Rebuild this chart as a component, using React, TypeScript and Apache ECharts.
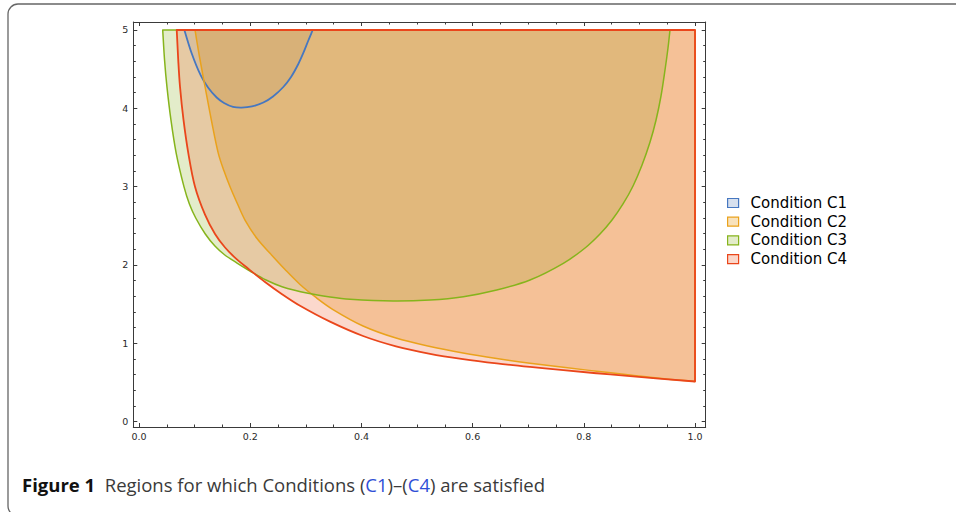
import React, { useEffect, useRef } from "react";
import * as echarts from "echarts";

// ---- axis ticks ----
const xMajorTicks = [0, 0.2, 0.4, 0.6, 0.8, 1.0];
const xMinorTicks = [0.05, 0.1, 0.15, 0.25, 0.3, 0.35, 0.45, 0.5, 0.55, 0.65, 0.7, 0.75, 0.85, 0.9, 0.95];
const yMajorTicks = [0, 1, 2, 3, 4, 5];
const yMinorTicks = [0.2, 0.4, 0.6, 0.8, 1.2, 1.4, 1.6, 1.8, 2.2, 2.4, 2.6, 2.8, 3.2, 3.4, 3.6, 3.8, 4.2, 4.4, 4.6, 4.8];

// ---- legend names ----
const conditionNames = ["Condition C1", "Condition C2", "Condition C3", "Condition C4"];

// ---- region boundary curves [x, y] ----
const c1Curve: number[][] = [
  [0.0815, 5.0], [0.0948, 4.7], [0.111, 4.419], [0.1241, 4.266], [0.1397, 4.138],
  [0.1529, 4.068], [0.1691, 4.018], [0.1847, 4.008], [0.2032, 4.023], [0.2236, 4.074],
  [0.241, 4.151], [0.2595, 4.272], [0.2734, 4.4], [0.2865, 4.566], [0.2959, 4.713],
  [0.3045, 4.866], [0.3124, 5.0],
];
const c1Corners: number[][] = [];

const c2Curve: number[][] = [
  [0.1007, 5.0], [0.1088, 4.655], [0.1187, 4.276], [0.1304, 3.838], [0.1426, 3.425],
  [0.1529, 3.199], [0.1637, 2.999], [0.1772, 2.778], [0.1906, 2.573], [0.2122, 2.337],
  [0.2356, 2.148], [0.2626, 1.941], [0.2896, 1.75], [0.3183, 1.584], [0.3489, 1.43],
  [0.4029, 1.22], [0.4622, 1.066], [0.5234, 0.958], [0.5827, 0.875], [0.6433, 0.805],
  [0.7032, 0.745], [0.7631, 0.692], [0.8232, 0.642], [0.8831, 0.594], [0.9406, 0.549],
  [1.0, 0.511],
];
const c2Corners: number[][] = [[1.0, 5.0]];

const c3Curve: number[][] = [
  [0.0426, 5.0], [0.0459, 4.617], [0.0502, 4.276], [0.0574, 3.851], [0.0669, 3.425],
  [0.0808, 2.999], [0.0906, 2.778], [0.102, 2.599], [0.1192, 2.395], [0.1365, 2.241],
  [0.1543, 2.126], [0.1763, 2.024], [0.1996, 1.922], [0.2284, 1.807], [0.2572, 1.722],
  [0.304, 1.637], [0.3435, 1.59], [0.3795, 1.561], [0.4568, 1.539], [0.5234, 1.552],
  [0.5833, 1.594], [0.6433, 1.679], [0.7032, 1.807], [0.7631, 2.02], [0.8022, 2.216],
  [0.8291, 2.395], [0.8507, 2.573], [0.8705, 2.778], [0.8885, 3.008], [0.9047, 3.276],
  [0.9191, 3.57], [0.9299, 3.851], [0.9388, 4.157], [0.946, 4.489], [0.9514, 4.77],
  [0.955, 5.0],
];
const c3Corners: number[][] = [];

const c4Curve: number[][] = [
  [0.0678, 5.0], [0.0705, 4.617], [0.0737, 4.276], [0.08, 3.851], [0.0887, 3.425],
  [0.1007, 2.999], [0.1187, 2.641], [0.1367, 2.395], [0.1547, 2.222], [0.1745, 2.08],
  [0.196, 1.954], [0.2266, 1.782], [0.2572, 1.626], [0.2896, 1.478], [0.3435, 1.275],
  [0.4029, 1.092], [0.4622, 0.96], [0.5234, 0.865], [0.5827, 0.798], [0.6433, 0.743],
  [0.7032, 0.697], [0.7631, 0.655], [0.8232, 0.616], [0.8831, 0.579], [0.9406, 0.545],
  [1.0, 0.511],
];
const c4Corners: number[][] = [[1.0, 5.0]];

const curves = [c1Curve, c2Curve, c3Curve, c4Curve];
const corners = [c1Corners, c2Corners, c3Corners, c4Corners];

const fillColors = [
  "rgba(94,129,181,0.15)",
  "rgba(230,152,20,0.3)",
  "rgba(143,178,45,0.25)",
  "rgba(238,98,50,0.25)",
];
const lineColors = ["#4677c0", "#eaa21c", "#86b41c", "#ea461b"];
const lineWidths = [1.8, 1.5, 1.5, 1.8];
const legendFills = ["#d7e0ee", "#f8e2bc", "#e3ecca", "#fbd6c9"];

const X_MIN = -0.0103;
const X_MAX = 1.0192;
const Y_MIN = -0.0702;
const Y_MAX = 5.102;

// Smooth cubic path through pixel points (chord-length scaled tangents)
function smoothPath(pix: number[][], cornerPix: number[][]): string {
  const f = (v: number) => v.toFixed(2);
  const dist = (a: number[], b: number[]) => Math.hypot(b[0] - a[0], b[1] - a[1]) || 1e-6;
  const n = pix.length;
  const tangent = (i: number) => {
    if (i === 0) {
      const d = dist(pix[0], pix[1]);
      return [(pix[1][0] - pix[0][0]) / d, (pix[1][1] - pix[0][1]) / d];
    }
    if (i === n - 1) {
      const d = dist(pix[n - 2], pix[n - 1]);
      return [(pix[n - 1][0] - pix[n - 2][0]) / d, (pix[n - 1][1] - pix[n - 2][1]) / d];
    }
    const d = dist(pix[i - 1], pix[i]) + dist(pix[i], pix[i + 1]);
    return [(pix[i + 1][0] - pix[i - 1][0]) / d, (pix[i + 1][1] - pix[i - 1][1]) / d];
  };
  let d = `M${f(pix[0][0])},${f(pix[0][1])}`;
  for (let i = 0; i < n - 1; i++) {
    const p1 = pix[i];
    const p2 = pix[i + 1];
    const L = dist(p1, p2) / 3;
    const t1 = tangent(i);
    const t2 = tangent(i + 1);
    d += `C${f(p1[0] + t1[0] * L)},${f(p1[1] + t1[1] * L)},${f(p2[0] - t2[0] * L)},${f(p2[1] - t2[1] * L)},${f(p2[0])},${f(p2[1])}`;
  }
  for (const c of cornerPix) d += `L${f(c[0])},${f(c[1])}`;
  d += "Z";
  return d;
}

export default function App() {
  const ref = useRef<HTMLDivElement>(null);

  useEffect(() => {
    if (!ref.current) return;
    const chart = echarts.init(ref.current, undefined, { renderer: "svg" });

    const axisLineStyle = { color: "#3a3a3a", width: 1 };
    const tickStyle = { color: "#3a3a3a", width: 1 };
    const labelStyle = { fontFamily: "DejaVu Sans", fontSize: 9.5, color: "#2a2a2a" };

    const xBase = {
      type: "value",
      min: X_MIN,
      max: X_MAX,
      splitLine: { show: false },
      axisLine: { onZero: false, lineStyle: axisLineStyle },
    };
    const yBase = {
      type: "value",
      min: Y_MIN,
      max: Y_MAX,
      splitLine: { show: false },
      axisLine: { onZero: false, lineStyle: axisLineStyle },
    };

    const makeSeries = (i: number, stroke: boolean) => ({
      type: "custom",
      name: conditionNames[i],
      xAxisIndex: 0,
      yAxisIndex: 0,
      z: (stroke ? 20 : 2) + i,
      silent: true,
      data: [curves[i][0]],
      itemStyle: { color: legendFills[i], borderColor: lineColors[i], borderWidth: 1 },
      renderItem: (_params: any, api: any) => {
        const pix = curves[i].map((p) => api.coord(p));
        const cornerPix = corners[i].map((p) => api.coord(p));
        return {
          type: "path",
          shape: { pathData: smoothPath(pix, cornerPix) },
          style: stroke
            ? { fill: "none", stroke: lineColors[i], lineWidth: lineWidths[i], lineJoin: "round" }
            : { fill: fillColors[i], stroke: "none" },
        };
      },
    });

    const series: any[] = [];
    for (let i = 0; i < 4; i++) series.push(makeSeries(i, false));
    for (let i = 0; i < 4; i++) series.push(makeSeries(i, true));

    chart.setOption({
      animation: false,
      grid: { left: 133.3, right: 250.3, top: 22, bottom: 85, containLabel: false },
      xAxis: [
        {
          ...xBase,
          position: "bottom",
          axisTick: { inside: true, length: 4, customValues: xMajorTicks, lineStyle: tickStyle },
          axisLabel: {
            ...labelStyle,
            customValues: xMajorTicks,
            margin: 4,
            formatter: (v: number) => v.toFixed(1),
          },
        },
        {
          ...xBase,
          position: "bottom",
          axisLine: { show: false, onZero: false },
          axisTick: { inside: true, length: 2.5, customValues: xMinorTicks, lineStyle: tickStyle },
          axisLabel: { show: false },
        },
        {
          ...xBase,
          position: "top",
          axisTick: { inside: true, length: 4, customValues: xMajorTicks, lineStyle: tickStyle },
          axisLabel: { show: false },
        },
        {
          ...xBase,
          position: "top",
          axisLine: { show: false, onZero: false },
          axisTick: { inside: true, length: 2.5, customValues: xMinorTicks, lineStyle: tickStyle },
          axisLabel: { show: false },
        },
      ],
      yAxis: [
        {
          ...yBase,
          position: "left",
          axisTick: { inside: true, length: 4, customValues: yMajorTicks, lineStyle: tickStyle },
          axisLabel: {
            ...labelStyle,
            customValues: yMajorTicks,
            margin: 5,
            formatter: (v: number) => String(Math.round(v)),
          },
        },
        {
          ...yBase,
          position: "left",
          axisLine: { show: false, onZero: false },
          axisTick: { inside: true, length: 2.5, customValues: yMinorTicks, lineStyle: tickStyle },
          axisLabel: { show: false },
        },
        {
          ...yBase,
          position: "right",
          axisTick: { inside: true, length: 4, customValues: yMajorTicks, lineStyle: tickStyle },
          axisLabel: { show: false },
        },
        {
          ...yBase,
          position: "right",
          axisLine: { show: false, onZero: false },
          axisTick: { inside: true, length: 2.5, customValues: yMinorTicks, lineStyle: tickStyle },
          axisLabel: { show: false },
        },
      ],
      legend: {
        orient: "vertical",
        left: 722,
        top: 190.5,
        itemWidth: 11,
        itemHeight: 9,
        itemGap: 3.7,
        icon: "rect",
        selectedMode: false,
        textStyle: { fontFamily: "DejaVu Sans", fontSize: 15, color: "#000", padding: [0, 0, 0, 7] },
        data: conditionNames.map((n, i) => ({
          name: n,
          icon: "rect",
          itemStyle: { color: legendFills[i], borderColor: lineColors[i], borderWidth: 1.2 },
        })),
      },
      graphic: [
        {
          type: "rect",
          z: -10,
          silent: true,
          shape: { x: 8, y: 4, width: 1200, height: 512, r: 10 },
          style: { fill: "none", stroke: "#666", lineWidth: 1.3 },
        },
        {
          type: "text",
          left: 22,
          top: 475,
          style: {
            text: "{b|Figure 1}  Regions for which Conditions ({c|C1})–({c|C4}) are satisfied",
            fontFamily: "Open Sans",
            fontSize: 18.5,
            fill: "#3a3a3a",
            rich: {
              b: { fontFamily: "Open Sans", fontSize: 18.5, fontWeight: "bold", fill: "#111" },
              c: { fontFamily: "Open Sans", fontSize: 18.5, fill: "#2f4fd6" },
            },
          },
        },
      ],
      series,
    });

    return () => chart.dispose();
  }, []);

  return (
    <div
      ref={ref}
      style={{ position: "absolute", left: 0, top: 0, width: 956, height: 512 }}
    />
  );
}
